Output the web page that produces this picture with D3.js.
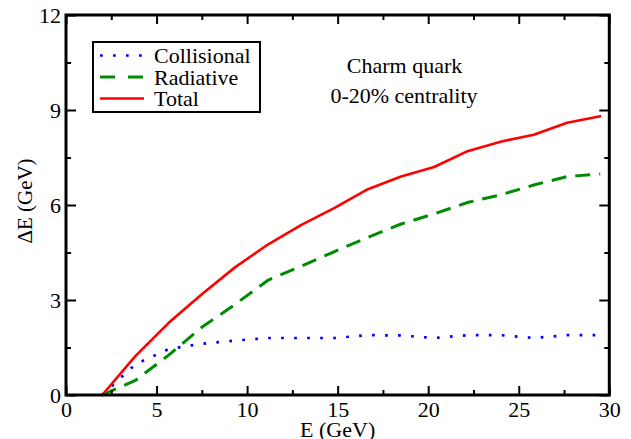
<!DOCTYPE html>
<html>
<head>
<meta charset="utf-8">
<script src="https://cdn.jsdelivr.net/npm/d3@7"></script>
</head>
<body style="margin:0;padding:0;background:#fff">
<svg id="chart" width="631" height="439" style="display:block"></svg>
<script>
// ---- data ----
const energy = [2, 3.83, 5.67, 7.5, 9.33, 11.17, 13, 14.83, 16.67, 18.5, 20.33, 22.17, 24, 25.83, 27.67, 29.5];
const collisional = [0, 0.97, 1.45, 1.62, 1.72, 1.8, 1.8, 1.8, 1.89, 1.88, 1.8, 1.89, 1.89, 1.8, 1.89, 1.89];
const radiative = [0, 0.46, 1.26, 2.14, 2.86, 3.63, 4.07, 4.53, 4.98, 5.4, 5.72, 6.08, 6.32, 6.63, 6.9, 6.98];
const total = [0, 1.23, 2.28, 3.18, 4.03, 4.76, 5.37, 5.91, 6.5, 6.9, 7.2, 7.7, 8.0, 8.22, 8.6, 8.8];
const xMajorTicks = [0, 5, 10, 15, 20, 25, 30];
const xMinorTicks = [2.5, 7.5, 12.5, 17.5, 22.5, 27.5];
const yMajorTicks = [0, 3, 6, 9, 12];
const yMinorTicks = [1.5, 4.5, 7.5, 10.5];
const seriesNames = ["Collisional", "Radiative", "Total"];
const annotations = ["Charm quark", "0-20% centrality"];
const xTitle = "E (GeV)";
const yTitle = "\u0394E (GeV)";

// ---- layout ----
const FONT = "'Liberation Serif', Tinos, 'Times New Roman', serif";
const L = 66, R = 609.3, T = 15, B = 395;
const svg = d3.select("#chart");
const x = d3.scaleLinear().domain([0, 30]).range([L, R]);
const y = d3.scaleLinear().domain([0, 12]).range([B, T]);

const styles = [
  { color: "#0000ff", width: 2.7, dash: "2.7,10.3", cap: "butt" },
  { color: "#008c00", width: 3, dash: "15,9", cap: "butt" },
  { color: "#ff0000", width: 2.6, dash: null, cap: "round" }
];
const seriesData = [collisional, radiative, total];

function serif(sel, size) {
  return sel.style("font-family", FONT).style("font-size", size + "px").style("fill", "#000");
}

// ---- curves ----
const line = d3.line().x(d => x(d[0])).y(d => y(d[1]));
const plot = svg.append("g");
seriesData.forEach((vals, i) => {
  const pts = energy.map((e, j) => [e, vals[j]]);
  const p = plot.append("path")
    .attr("d", line(pts))
    .attr("fill", "none")
    .attr("stroke", styles[i].color)
    .attr("stroke-width", styles[i].width)
    .attr("stroke-linecap", styles[i].cap)
    .attr("stroke-linejoin", "round");
  if (styles[i].dash) p.attr("stroke-dasharray", styles[i].dash);
});

// ---- axes ----
function styleAxis(g) {
  g.attr("font-family", null).attr("font-size", null);
  g.select(".domain").remove();
  g.selectAll(".tick line").attr("stroke", "#000").attr("stroke-width", 2);
  serif(g.selectAll(".tick text"), 22);
}
const fmt = d3.format("d");
// bottom
svg.append("g").attr("transform", `translate(0,${B})`)
  .call(d3.axisBottom(x).tickValues(xMajorTicks).tickSize(-9).tickPadding(6).tickFormat(fmt))
  .call(styleAxis);
svg.append("g").attr("transform", `translate(0,${B})`)
  .call(d3.axisBottom(x).tickValues(xMinorTicks).tickSize(-5).tickFormat(""))
  .call(styleAxis);
// top
svg.append("g").attr("transform", `translate(0,${T})`)
  .call(d3.axisTop(x).tickValues(xMajorTicks).tickSize(-9).tickFormat(""))
  .call(styleAxis);
svg.append("g").attr("transform", `translate(0,${T})`)
  .call(d3.axisTop(x).tickValues(xMinorTicks).tickSize(-5).tickFormat(""))
  .call(styleAxis);
// left
svg.append("g").attr("transform", `translate(${L},0)`)
  .call(d3.axisLeft(y).tickValues(yMajorTicks).tickSize(-10).tickPadding(5).tickFormat(fmt))
  .call(styleAxis);
svg.append("g").attr("transform", `translate(${L},0)`)
  .call(d3.axisLeft(y).tickValues(yMinorTicks).tickSize(-5).tickFormat(""))
  .call(styleAxis);
// right
svg.append("g").attr("transform", `translate(${R},0)`)
  .call(d3.axisRight(y).tickValues(yMajorTicks).tickSize(-10).tickFormat(""))
  .call(styleAxis);
svg.append("g").attr("transform", `translate(${R},0)`)
  .call(d3.axisRight(y).tickValues(yMinorTicks).tickSize(-5).tickFormat(""))
  .call(styleAxis);

// frame
svg.append("rect")
  .attr("x", L).attr("y", T).attr("width", R - L).attr("height", B - T)
  .attr("fill", "none").attr("stroke", "#000").attr("stroke-width", 3);

// axis titles
serif(svg.append("text")
  .attr("x", (L + R) / 2).attr("y", 436.5)
  .attr("text-anchor", "middle"), 22)
  .text(xTitle);
serif(svg.append("text")
  .attr("transform", "translate(31.5,201) rotate(-90)")
  .attr("text-anchor", "middle"), 21)
  .text(yTitle);

// ---- legend ----
const lg = svg.append("g");
lg.append("rect")
  .attr("x", 93).attr("y", 42).attr("width", 167).attr("height", 70)
  .attr("fill", "#fff").attr("stroke", "#000").attr("stroke-width", 2);
const rowY = [55.5, 77, 98.5];
seriesNames.forEach((name, i) => {
  const l = lg.append("line")
    .attr("x1", 100).attr("x2", 144)
    .attr("y1", rowY[i]).attr("y2", rowY[i])
    .attr("stroke", styles[i].color)
    .attr("stroke-width", styles[i].width);
  if (i === 0) l.attr("stroke-dasharray", "2.7,10.3");
  else if (i === 1) l.attr("stroke-dasharray", "15,13");
  serif(lg.append("text")
    .attr("x", 154).attr("y", rowY[i] + 7.8), 22)
    .text(name);
});

// ---- annotations ----
serif(svg.append("text").attr("x", 404.5).attr("y", 73)
  .attr("text-anchor", "middle"), 22).text(annotations[0]);
serif(svg.append("text").attr("x", 404).attr("y", 103)
  .attr("text-anchor", "middle"), 22).text(annotations[1]);
</script>
</body>
</html>
